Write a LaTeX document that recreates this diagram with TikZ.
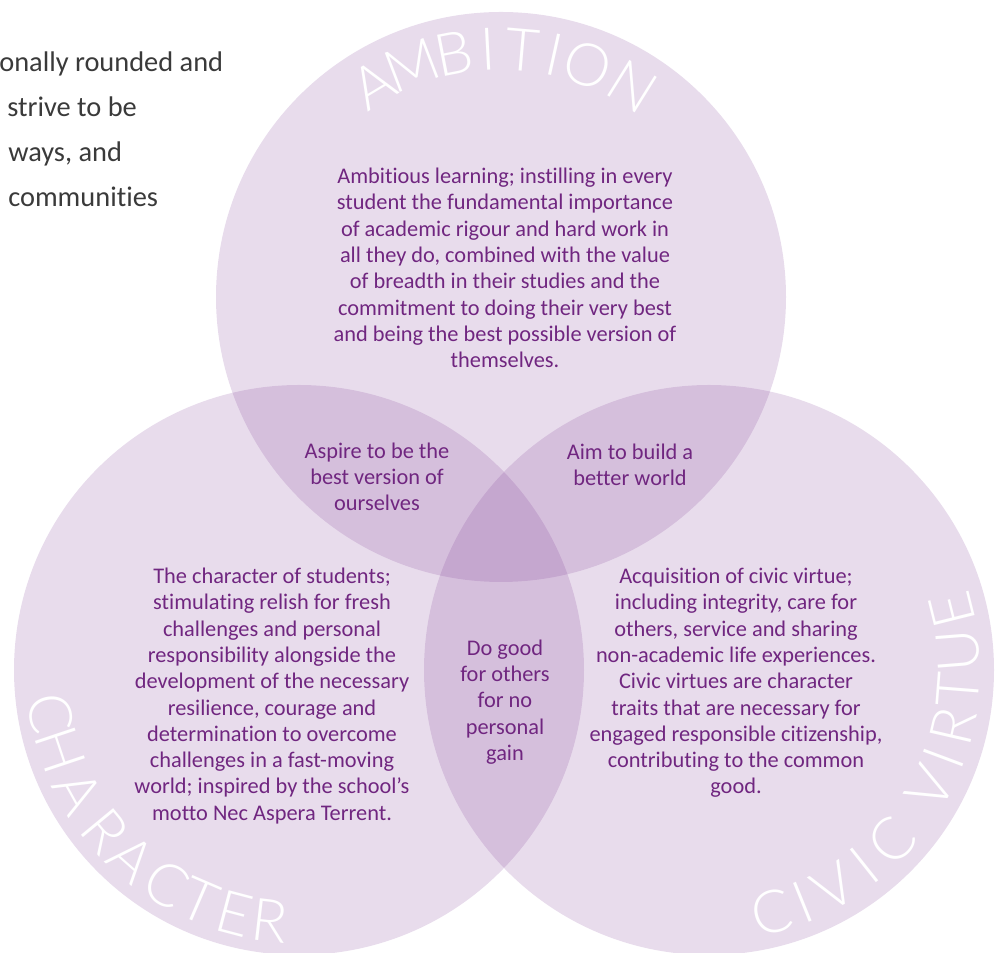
\documentclass[tikz,border=0pt]{standalone}
\usepackage{fontspec}
\setmainfont{Carlito}[Ligatures=NoCommon]
\newfontfamily\arcfont{Lato Light}
\usepackage{tikz}
\definecolor{venn}{RGB}{120,49,143}
\definecolor{venntext}{RGB}{112,38,128}
\definecolor{introgray}{RGB}{58,58,58}
\tikzset{ring/.style={fill=venn, fill opacity=0.17, draw=none},
  body/.style={text=venntext, align=center, inner sep=0pt, font=\fontsize{15.9}{18.7}\selectfont},
  intro/.style={text=introgray, anchor=base west, inner sep=0pt, font=\fontsize{20.2}{24}\selectfont},
  arcletter/.style={text=white, anchor=base, inner sep=0pt, font=\arcfont\fontsize{42}{42}\selectfont}}

\begin{document}
\begin{tikzpicture}[x=0.025cm, y=0.025cm]
                \useasboundingbox (0,0) rectangle (1002,953);
                \coordinate (amb) at (501,656);
                \coordinate (cha) at (299,283);
                \coordinate (civ) at (709,283);
                \fill[ring] (amb) circle [radius=285];
                \fill[ring] (cha) circle [radius=285];
                \fill[ring] (civ) circle [radius=285];

                % words round the rims
                \foreach \ch/\ang in {A/121, M/111, B/101, I/93, T/85, I/77.5, O/69.5, N/58}
                    \node[arcletter, rotate=\ang-90] at ([shift={(\ang:227)}]amb) {\ch};
                \foreach \ch/\ang in {C/190, H/198.5, A/209, R/219.6, A/228.6, C/238.3, T/246.7, E/255.2, R/263.4}
                    \node[arcletter, rotate=\ang+90] at ([shift={(\ang:273)}]cha) {\ch};
                \foreach \ch/\ang in {C/284.5, I/292, V/300, I/308.5, C/317, V/332, I/339.5, R/347, T/355.5, U/364.5, E/374}
                    \node[arcletter, rotate=\ang+90] at ([shift={(\ang:271)}]civ) {\ch};

                \node[body] (ambtext) at (505,685) {Ambitious learning; instilling in every\\ student the fundamental importance\\ of academic rigour and hard work in\\ all they do, combined with the value\\ of breadth in their studies and the\\ commitment to doing their very best\\ and being the best possible version of\\ themselves.};
                \node[body] (aspire) at (377,476) {Aspire to be the\\ best version of\\ ourselves};
                \node[body] (aim) at (630,488) {Aim to build a\\ better world};
                \node[body] (dogood) at (505,251) {Do good\\ for others\\ for no\\ personal\\ gain};
                \node[body] (chatext) at (272,257) {The character of students;\\ stimulating relish for fresh\\ challenges and personal\\ responsibility alongside the\\ development of the necessary\\ resilience, courage and\\ determination to overcome\\ challenges in a fast-moving\\ world; inspired by the school's\\ motto Nec Aspera Terrent.};
                \node[body] (civtext) at (736,270) {Acquisition of civic virtue;\\ including integrity, care for\\ others, service and sharing\\ non-academic life experiences.\\ Civic virtues are character\\ traits that are necessary for\\ engaged responsible citizenship,\\ contributing to the common\\ good.};

                \node[intro] (intro1) at (-1,881) {onally rounded and};
                \node[intro] (intro2) at (7,836) {strive to be};
                \node[intro] (intro3) at (8,791) {ways, and};
                \node[intro] (intro4) at (8,746) {communities};
\end{tikzpicture}
\end{document}
